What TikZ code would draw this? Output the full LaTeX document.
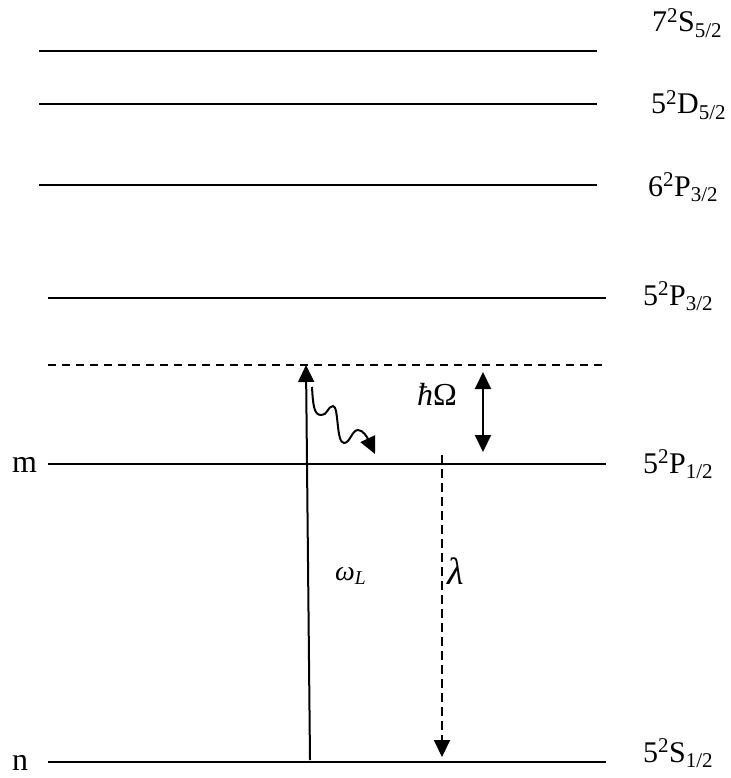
\documentclass[tikz,border=0pt]{standalone}
\usepackage{fontspec}
\setmainfont{Liberation Serif}
\usetikzlibrary{arrows.meta,positioning}

\begin{document}
\begin{tikzpicture}[x=1pt, y=-1pt,
    level/.style={line width=2pt},
    lvltxt/.style={anchor=base west, inner sep=0pt, font=\fontsize{30}{36}\selectfont},
    sidetxt/.style={lvltxt, font=\fontsize{32}{38}\selectfont},
    arr/.style={-{Triangle[length=17pt,width=16pt]}, line width=2pt},
    dblarr/.style={{Triangle[length=17pt,width=16pt]}-{Triangle[length=17pt,width=16pt]}, line width=2pt}
]
\useasboundingbox (0,0) rectangle (730,778);

% levels
\draw[level] (39,51)  -- (597,51);
\draw[level] (39,104) -- (597,104);
\draw[level] (39,185) -- (597,185);
\draw[level] (48,298) -- (606,298);
\draw[level, dash pattern=on 8pt off 6pt] (48,365) -- (603,365);
\draw[level] (48,464) -- (606,464);
\draw[level] (48,762) -- (606,762);

% level labels
\node[lvltxt] (s7)  at (652,32)  {7\textsuperscript{2}S\textsubscript{5/2}};
\node[lvltxt] (d5)  at (651,114) {5\textsuperscript{2}D\textsubscript{5/2}};
\node[lvltxt] (p6)  at (648,196) {6\textsuperscript{2}P\textsubscript{3/2}};
\node[lvltxt] (p53) at (643,305) {5\textsuperscript{2}P\textsubscript{3/2}};
\node[lvltxt] (p51) at (643,473) {5\textsuperscript{2}P\textsubscript{1/2}};
\node[lvltxt] (s5)  at (643,762) {5\textsuperscript{2}S\textsubscript{1/2}};
\node[sidetxt] (m) at (12,472) {m};
\node[sidetxt] (n) at (12,770) {n};

% transitions
\coordinate (pumpA) at (310,760);
\coordinate (pumpB) at (306,365);
\coordinate (relaxA) at (312,387);
\coordinate (relaxB) at (375,454);
\coordinate (gapA) at (483,372);
\coordinate (gapB) at (483,452);
\coordinate (emitA) at (442,455);
\coordinate (emitB) at (442,757);

\draw[arr] (pumpA) -- (pumpB);
\draw[arr] (relaxA) .. controls (313,405) and (314,415) .. (321,415)
  .. controls (327,416) and (328,406) .. (333,406)
  .. controls (339,406) and (336,443) .. (344,443)
  .. controls (350,443) and (352,430) .. (358,430)
  .. controls (363,430) and (367,437) .. (relaxB);
\draw[dblarr] (gapA) -- (gapB);
\draw[arr, dash pattern=on 9pt off 5pt] (emitA) -- (emitB);

\node[lvltxt, font=\fontsize{28}{34}\selectfont] (omega) at (335,580) {\textit{ω}\textsubscript{\textit{L}}};
\node[lvltxt, font=\fontsize{38}{44}\selectfont] (lam) at (447,584) {\textit{λ}};
\node[lvltxt, font=\fontsize{32}{38}\selectfont] (hbar) at (417,405) {\textit{ħ}Ω};
\end{tikzpicture}
\end{document}
